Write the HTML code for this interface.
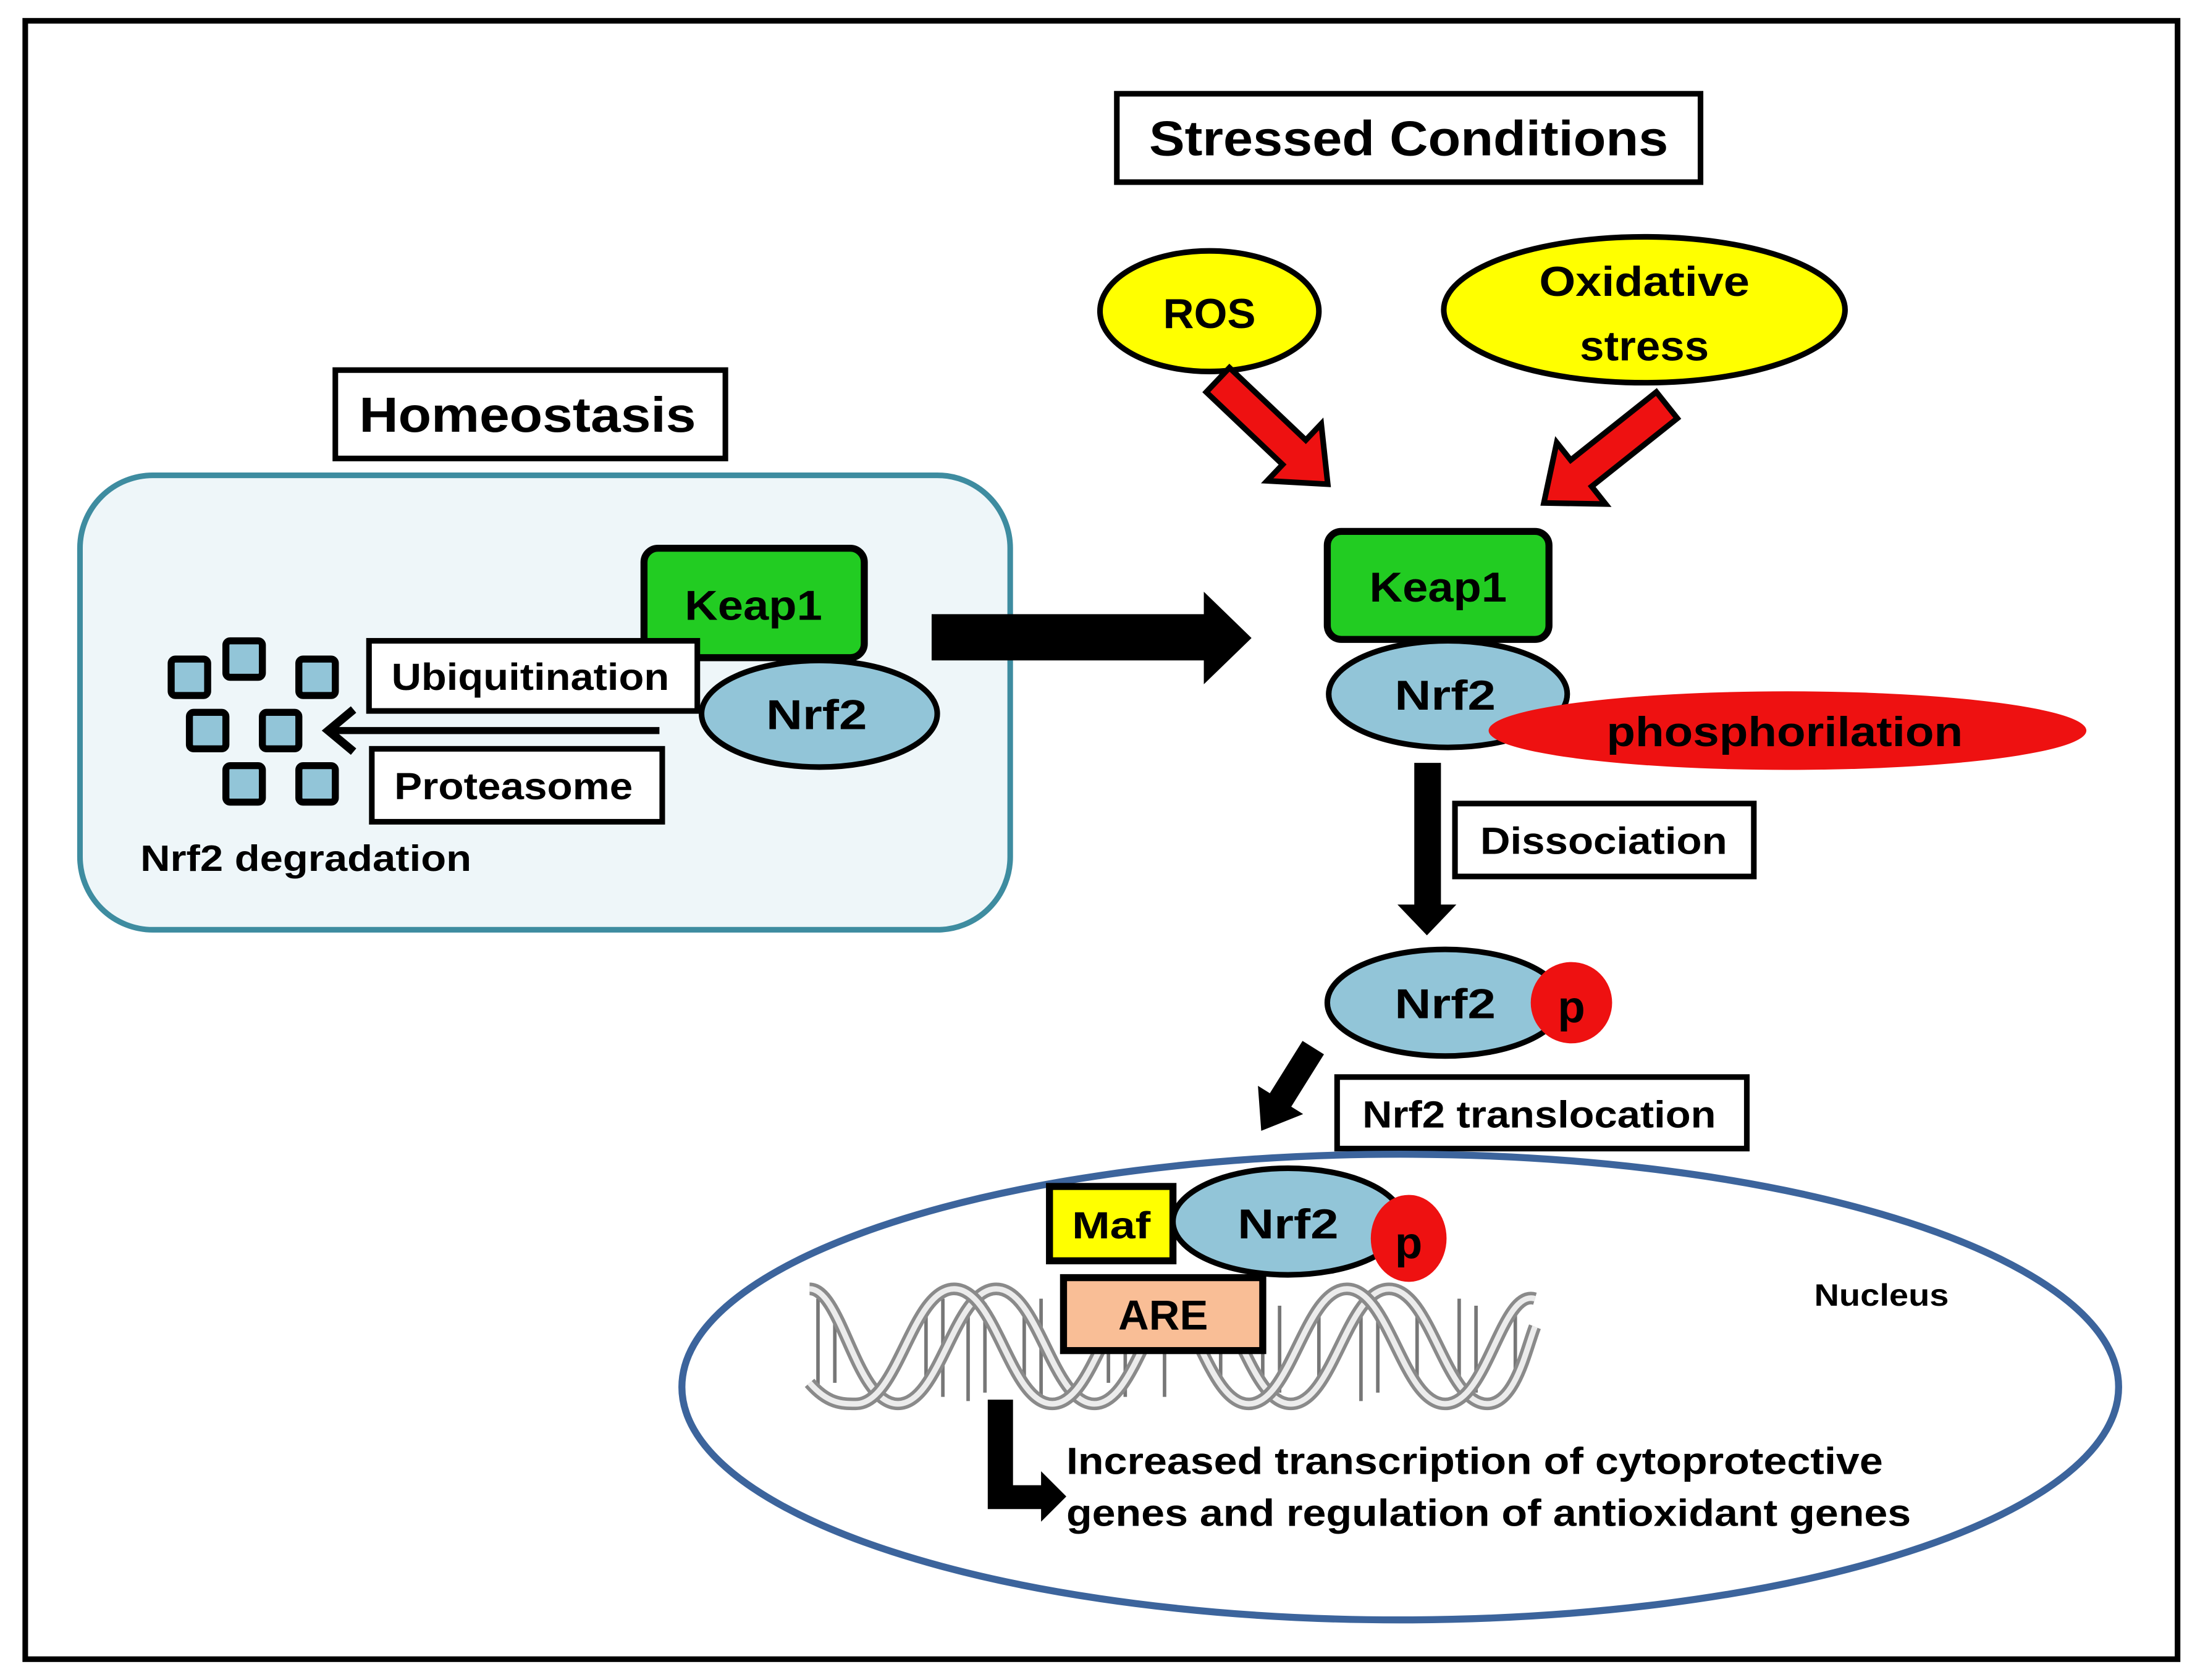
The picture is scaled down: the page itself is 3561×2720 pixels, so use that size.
<!DOCTYPE html>
<html><head><meta charset="utf-8"><style>html,body{margin:0;padding:0;background:#fff}svg{display:block}text{font-family:"Liberation Sans",sans-serif;font-weight:bold}</style></head>
<body>
<svg width="3561" height="2720" viewBox="0 0 1568 1196" xmlns="http://www.w3.org/2000/svg">
<rect x="0" y="0" width="1568" height="1196" fill="#fff"/>
<rect x="18" y="14" width="1534" height="1168" fill="none" stroke="#000" stroke-width="4"/>

<rect x="796" y="66" width="416" height="63" fill="#fff" stroke="#000" stroke-width="4"/>
<text x="1004" y="110" font-size="35" text-anchor="middle" textLength="370" lengthAdjust="spacingAndGlyphs">Stressed Conditions</text>

<ellipse cx="862" cy="221" rx="78" ry="43" fill="#ffff00" stroke="#000" stroke-width="4"/>
<text x="862" y="233" font-size="30" text-anchor="middle" textLength="66" lengthAdjust="spacingAndGlyphs">ROS</text>
<ellipse cx="1172" cy="220" rx="143" ry="52" fill="#ffff00" stroke="#000" stroke-width="4"/>
<text x="1172" y="210" font-size="30" text-anchor="middle" textLength="150" lengthAdjust="spacingAndGlyphs">Oxidative</text>
<text x="1172" y="256" font-size="30" text-anchor="middle" textLength="92" lengthAdjust="spacingAndGlyphs">stress</text>

<g transform="translate(868,270) rotate(43.5)">
<polygon points="0,-12 75,-12 75,-28 108,0 75,28 75,12 0,12" fill="#ee1111" stroke="#000" stroke-width="4"/>
</g>
<g transform="translate(1188,288) rotate(141.5)">
<polygon points="0,-12 78,-12 78,-28 112,0 78,28 78,12 0,12" fill="#ee1111" stroke="#000" stroke-width="4"/>
</g>

<rect x="239" y="263" width="278" height="63" fill="#fff" stroke="#000" stroke-width="4"/>
<text x="376" y="307" font-size="35" text-anchor="middle" textLength="240" lengthAdjust="spacingAndGlyphs">Homeostasis</text>

<rect x="57" y="338" width="663" height="324" rx="52" fill="#eef6f9" stroke="#3e8ca0" stroke-width="4"/>

<rect x="459" y="390" width="157" height="78" rx="10" fill="#22cc22" stroke="#000" stroke-width="5"/>
<text x="537" y="441" font-size="30" text-anchor="middle" textLength="98" lengthAdjust="spacingAndGlyphs">Keap1</text>
<rect x="263" y="456" width="234" height="50" fill="#fff" stroke="#000" stroke-width="4"/>
<text x="378" y="491" font-size="27" text-anchor="middle" textLength="198" lengthAdjust="spacingAndGlyphs">Ubiquitination</text>
<ellipse cx="584" cy="508" rx="84" ry="38" fill="#92c5d8" stroke="#000" stroke-width="4"/>
<text x="582" y="519" font-size="30" text-anchor="middle" textLength="72" lengthAdjust="spacingAndGlyphs">Nrf2</text>
<line x1="470" y1="520" x2="236" y2="520" stroke="#000" stroke-width="5"/>
<polyline points="252,505 234,520 252,535" fill="none" stroke="#000" stroke-width="6"/>
<rect x="265" y="533" width="207" height="52" fill="#fff" stroke="#000" stroke-width="4"/>
<text x="366" y="569" font-size="27" text-anchor="middle" textLength="170" lengthAdjust="spacingAndGlyphs">Proteasome</text>

<g fill="#92c5d8" stroke="#000" stroke-width="5">
<rect x="122" y="469" width="26" height="26" rx="3"/>
<rect x="161" y="456" width="26" height="26" rx="3"/>
<rect x="213" y="469" width="26" height="26" rx="3"/>
<rect x="135" y="507" width="26" height="26" rx="3"/>
<rect x="187" y="507" width="26" height="26" rx="3"/>
<rect x="161" y="545" width="26" height="26" rx="3"/>
<rect x="213" y="545" width="26" height="26" rx="3"/>
</g>
<text x="100" y="620" font-size="26" textLength="236" lengthAdjust="spacingAndGlyphs">Nrf2 degradation</text>

<polygon points="664,437 858,437 858,421 892,454 858,487 858,470 664,470" fill="#000"/>

<rect x="946" y="378" width="158" height="77" rx="10" fill="#22cc22" stroke="#000" stroke-width="5"/>
<text x="1025" y="428" font-size="30" text-anchor="middle" textLength="98" lengthAdjust="spacingAndGlyphs">Keap1</text>
<ellipse cx="1032" cy="494" rx="85" ry="38" fill="#92c5d8" stroke="#000" stroke-width="4"/>
<text x="1030" y="505" font-size="30" text-anchor="middle" textLength="72" lengthAdjust="spacingAndGlyphs">Nrf2</text>
<ellipse cx="1274" cy="520" rx="213" ry="28" fill="#ee1111"/>
<text x="1272" y="531" font-size="30" text-anchor="middle" textLength="254" lengthAdjust="spacingAndGlyphs">phosphorilation</text>

<polygon points="1008,543 1027,543 1027,644 1038,644 1017,666 996,644 1008,644" fill="#000"/>
<rect x="1037" y="572" width="213" height="52" fill="#fff" stroke="#000" stroke-width="4"/>
<text x="1143" y="608" font-size="27" text-anchor="middle" textLength="176" lengthAdjust="spacingAndGlyphs">Dissociation</text>

<ellipse cx="1030" cy="714" rx="84" ry="38" fill="#92c5d8" stroke="#000" stroke-width="4"/>
<text x="1030" y="725" font-size="30" text-anchor="middle" textLength="72" lengthAdjust="spacingAndGlyphs">Nrf2</text>
<circle cx="1120" cy="714" r="29" fill="#ee1111"/>
<text x="1120" y="728" font-size="32" text-anchor="middle">p</text>

<g transform="translate(936,746) rotate(122)">
<polygon points="0,-9 44,-9 44,-19 70,0 44,19 44,9 0,9" fill="#000"/>
</g>
<rect x="953" y="767" width="292" height="51" fill="#fff" stroke="#000" stroke-width="4"/>
<text x="1097" y="803" font-size="27" text-anchor="middle" textLength="252" lengthAdjust="spacingAndGlyphs">Nrf2 translocation</text>

<ellipse cx="998" cy="988" rx="512" ry="166" fill="#fff" stroke="#3c649c" stroke-width="5"/>
<text x="1341" y="930" font-size="22" text-anchor="middle" textLength="96" lengthAdjust="spacingAndGlyphs">Nucleus</text>

<g fill="none">
<g stroke="#777" stroke-width="2.5">
<line x1="583" y1="925" x2="583" y2="995"/><line x1="595" y1="935" x2="595" y2="985"/>
<line x1="660" y1="935" x2="660" y2="985"/><line x1="672" y1="925" x2="672" y2="995"/><line x1="690" y1="922" x2="690" y2="998"/><line x1="702" y1="928" x2="702" y2="992"/>
<line x1="730" y1="935" x2="730" y2="985"/><line x1="742" y1="925" x2="742" y2="995"/><line x1="790" y1="935" x2="790" y2="985"/><line x1="802" y1="925" x2="802" y2="995"/><line x1="830" y1="925" x2="830" y2="995"/>
<line x1="870" y1="935" x2="870" y2="985"/><line x1="900" y1="925" x2="900" y2="995"/><line x1="912" y1="930" x2="912" y2="992"/>
<line x1="940" y1="935" x2="940" y2="985"/><line x1="970" y1="922" x2="970" y2="998"/><line x1="982" y1="928" x2="982" y2="992"/>
<line x1="1010" y1="935" x2="1010" y2="985"/><line x1="1040" y1="925" x2="1040" y2="995"/><line x1="1052" y1="930" x2="1052" y2="992"/><line x1="1080" y1="935" x2="1080" y2="985"/>
</g>
<path d="M577,918 C600,918 610,1000 640,1000 C670,1000 680,918 710,918 C740,918 750,1000 780,1000 C810,1000 820,918 850,918 C880,918 890,1000 920,1000 C950,1000 960,918 990,918 C1020,918 1030,1000 1060,1000 C1080,1000 1088,960 1094,945" stroke="#8a8a8a" stroke-width="9"/>
<path d="M577,918 C600,918 610,1000 640,1000 C670,1000 680,918 710,918 C740,918 750,1000 780,1000 C810,1000 820,918 850,918 C880,918 890,1000 920,1000 C950,1000 960,918 990,918 C1020,918 1030,1000 1060,1000 C1080,1000 1088,960 1094,945" stroke="#ececec" stroke-width="4"/>
<path d="M577,985 C590,1000 600,1000 610,1000 C640,1000 650,918 680,918 C710,918 720,1000 750,1000 C780,1000 790,918 820,918 C850,918 860,1000 890,1000 C920,1000 930,918 960,918 C990,918 1000,1000 1030,1000 C1060,1000 1070,918 1094,925" stroke="#8a8a8a" stroke-width="9"/>
<path d="M577,985 C590,1000 600,1000 610,1000 C640,1000 650,918 680,918 C710,918 720,1000 750,1000 C780,1000 790,918 820,918 C850,918 860,1000 890,1000 C920,1000 930,918 960,918 C990,918 1000,1000 1030,1000 C1060,1000 1070,918 1094,925" stroke="#ececec" stroke-width="4"/>
</g>

<rect x="748" y="845" width="88" height="53" fill="#ffff00" stroke="#000" stroke-width="5"/>
<text x="792" y="882" font-size="27" text-anchor="middle" textLength="56" lengthAdjust="spacingAndGlyphs">Maf</text>
<ellipse cx="918" cy="870" rx="82" ry="38" fill="#92c5d8" stroke="#000" stroke-width="4"/>
<text x="918" y="882" font-size="30" text-anchor="middle" textLength="72" lengthAdjust="spacingAndGlyphs">Nrf2</text>
<ellipse cx="1004" cy="882" rx="27" ry="31" fill="#ee1111"/>
<text x="1004" y="896" font-size="32" text-anchor="middle">p</text>
<rect x="758" y="910" width="142" height="52" fill="#f9be96" stroke="#000" stroke-width="5"/>
<text x="829" y="947" font-size="30" text-anchor="middle" textLength="64" lengthAdjust="spacingAndGlyphs">ARE</text>

<polygon points="704,997 722,997 722,1058 742,1058 742,1048 760,1066 742,1084 742,1075 704,1075" fill="#000"/>
<text x="760" y="1050" font-size="27" textLength="582" lengthAdjust="spacingAndGlyphs">Increased transcription of cytoprotective</text>
<text x="760" y="1087" font-size="27" textLength="602" lengthAdjust="spacingAndGlyphs">genes and regulation of antioxidant genes</text>
</svg>
</body></html>
